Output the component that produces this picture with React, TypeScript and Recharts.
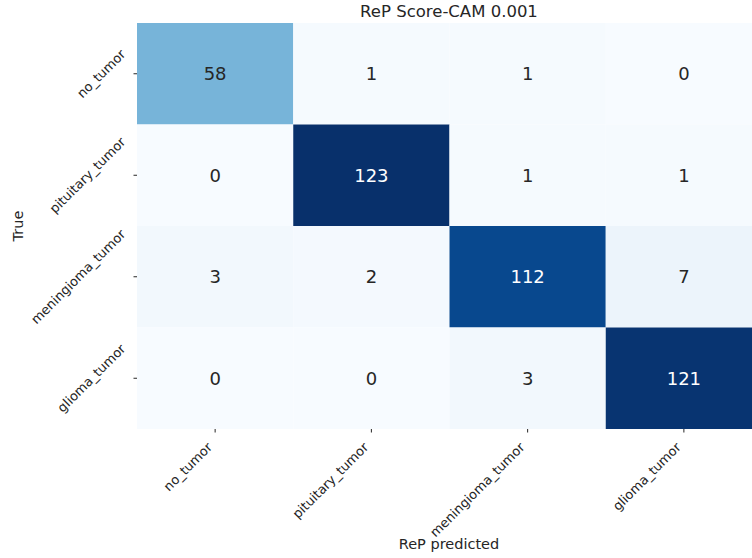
import React from 'react';
import { ScatterChart, Scatter, XAxis, YAxis, ReferenceArea } from 'recharts';

const classNames = ['no_tumor', 'pituitary_tumor', 'meningioma_tumor', 'glioma_tumor'];

// rows = true class, columns = predicted class
const noTumorRow = [58, 1, 1, 0];
const pituitaryRow = [0, 123, 1, 1];
const meningiomaRow = [3, 2, 112, 7];
const gliomaRow = [0, 0, 3, 121];

const matrix = [noTumorRow, pituitaryRow, meningiomaRow, gliomaRow];

const FONT = '"DejaVu Sans", sans-serif';

// matplotlib "Blues" colormap anchors
const BLUES = ['#f7fbff', '#deebf7', '#c6dbef', '#9ecae1', '#6baed6', '#4292c6', '#2171b5', '#08519c', '#08306b'];

function hexToRgb(h: string) {
  const n = parseInt(h.slice(1), 16);
  return [(n >> 16) & 255, (n >> 8) & 255, n & 255];
}

function blues(t: number) {
  const c = Math.max(0, Math.min(1, t)) * (BLUES.length - 1);
  const i = Math.min(Math.floor(c), BLUES.length - 2);
  const f = c - i;
  const a = hexToRgb(BLUES[i]);
  const b = hexToRgb(BLUES[i + 1]);
  const mix = a.map((v, k) => Math.round(v + (b[k] - v) * f));
  return `rgb(${mix[0]},${mix[1]},${mix[2]})`;
}

const vmax = Math.max(...matrix.flat());

let measureCtx: CanvasRenderingContext2D | null = null;
function textWidth(s: string, size: number) {
  if (!measureCtx) measureCtx = document.createElement('canvas').getContext('2d');
  if (!measureCtx) return s.length * size * 0.6;
  measureCtx.font = `${size}px "DejaVu Sans"`;
  return measureCtx.measureText(s).width;
}

const TICK_SIZE = 13;

// rotated label whose bounding box is right-aligned at xRight and centred / top-aligned at y
function RotatedLabel({ text, xRight, y, top }: { text: string; xRight: number; y: number; top?: boolean }) {
  const w = textWidth(text, TICK_SIZE);
  const side = (w + TICK_SIZE * 1.17) / Math.SQRT2;
  const cx = xRight - side / 2;
  const cy = top ? y + side / 2 : y;
  return (
    <text
      x={cx}
      y={cy}
      textAnchor="middle"
      dominantBaseline="central"
      fontFamily={FONT}
      fontSize={TICK_SIZE}
      fill="#262626"
      transform={`rotate(-45, ${cx}, ${cy})`}
    >
      {text}
    </text>
  );
}

function XTick(props: any) {
  const { x, y, payload } = props;
  const label = classNames[Math.floor(payload.value)];
  return <RotatedLabel text={label} xRight={x} y={y} top />;
}

function YTick(props: any) {
  const { x, y, payload } = props;
  const label = classNames[Math.floor(payload.value)];
  return <RotatedLabel text={label} xRight={x} y={y} />;
}

const centers = [0.5, 1.5, 2.5, 3.5];
const cellPoints = matrix.flatMap((row, r) => row.map((v, c) => ({ x: c + 0.5, y: r + 0.5, v })));

export default function App() {
  return (
    <div style={{ position: 'absolute', left: 0, top: 0, width: 752, height: 558, overflow: 'hidden', background: '#fff' }}>
      <ScatterChart width={762} height={558} margin={{ top: 23, right: 0, bottom: 0, left: 0 }}>
        <XAxis
          type="number"
          dataKey="x"
          domain={[0, 4]}
          ticks={centers}
          axisLine={false}
          tickLine={{ stroke: '#262626' }}
          tickSize={3.5}
          tickMargin={7}
          height={129}
          interval={0}
          tick={<XTick />}
        />
        <YAxis
          type="number"
          dataKey="y"
          domain={[0, 4]}
          reversed
          ticks={centers}
          axisLine={false}
          tickLine={{ stroke: '#262626' }}
          tickSize={3.5}
          tickMargin={5}
          width={137}
          interval={0}
          tick={<YTick />}
        />
        {matrix.map((row, r) =>
          row.map((v, c) => (
            <ReferenceArea
              key={`${r}-${c}`}
              x1={c}
              x2={c + 1}
              y1={r}
              y2={r + 1}
              fill={blues(v / vmax)}
              fillOpacity={1}
              stroke="none"
              label={{
                value: v,
                position: 'center',
                fill: v / vmax > 0.6 ? '#ffffff' : '#262626',
                fontSize: 18,
                fontFamily: FONT,
              }}
            />
          ))
        )}
        <Scatter data={cellPoints} isAnimationActive={false} shape={() => <g />} />
      </ScatterChart>
      <div style={{ position: 'absolute', left: 0, width: 898, top: 2, textAlign: 'center', fontFamily: FONT, fontSize: 16.5, color: '#262626', lineHeight: '19px' }}>
        ReP Score-CAM 0.001
      </div>
      <div style={{ position: 'absolute', left: 0, width: 898, top: 535, textAlign: 'center', fontFamily: FONT, fontSize: 14.5, color: '#262626', lineHeight: '18px' }}>
        ReP predicted
      </div>
      <div
        style={{
          position: 'absolute',
          left: 18,
          top: 226,
          transform: 'translate(-50%, -50%) rotate(-90deg)',
          fontFamily: FONT,
          fontSize: 14.5,
          color: '#262626',
          whiteSpace: 'nowrap',
        }}
      >
        True
      </div>
    </div>
  );
}
